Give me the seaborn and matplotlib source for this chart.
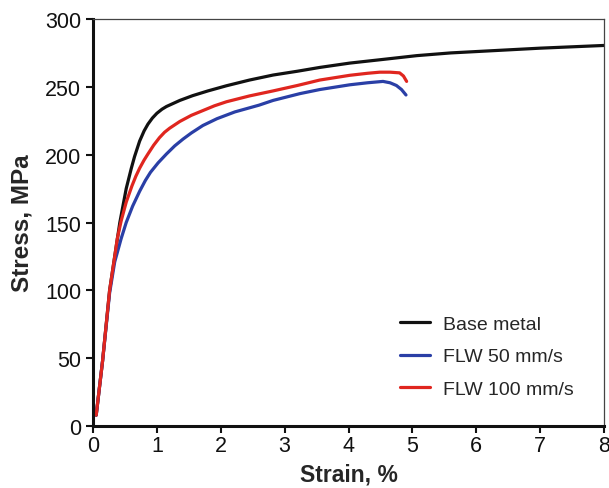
import numpy as np
import pandas as pd
import matplotlib
matplotlib.use("Agg")
import matplotlib.pyplot as plt
import seaborn as sns

# ---- data ----
base_x = [0.05, 0.15, 0.26, 0.34, 0.42, 0.52, 0.60, 0.65, 0.73, 0.80, 0.86, 0.93, 1.00, 1.08,
          1.15, 1.36, 1.56, 1.80, 2.09, 2.45, 2.82, 3.20, 3.55, 4.02, 4.50, 5.07, 5.60, 6.00,
          6.40, 7.00, 7.50, 8.00]
base_y = [8, 48, 100, 125, 150, 175, 190, 198.5, 210, 217.5, 222.5, 227, 230.5, 233.5,
          235.5, 240, 243.5, 247, 250.8, 255, 258.7, 261.5, 264.3, 267.5, 270, 273, 275, 276,
          277, 278.5, 279.5, 280.5]

fast_x = [0.05, 0.15, 0.26, 0.34, 0.38, 0.44, 0.52, 0.61, 0.67, 0.73, 0.80, 0.86, 0.95, 1.04,
          1.12, 1.20, 1.36, 1.54, 1.72, 1.90, 2.09, 2.45, 2.82, 3.20, 3.55, 4.02, 4.30, 4.49,
          4.65, 4.80, 4.86, 4.91]
fast_y = [8, 48, 100, 125, 138, 151, 165, 177, 184, 190, 196, 200.5, 207, 212.5,
          216.5, 219.5, 224.5, 229, 232.5, 236, 239, 243.3, 247, 251, 255, 258.5, 260, 260.8,
          260.8, 260.3, 258, 254]

slow_x = [0.05, 0.15, 0.26, 0.34, 0.44, 0.52, 0.62, 0.73, 0.82, 0.90, 1.02, 1.15, 1.28, 1.41,
          1.54, 1.72, 1.94, 2.22, 2.60, 2.82, 3.24, 3.55, 4.02, 4.30, 4.54, 4.65, 4.75, 4.83,
          4.90]
slow_y = [8, 48, 98, 121, 138, 150, 162, 173, 181, 187, 194, 200.5, 206.5, 211.5,
          216, 221.5, 226.5, 231.5, 236.5, 240, 245, 248, 251.5, 253, 254, 253, 251, 248,
          244]

labels = ["Base metal", "FLW 50 mm/s", "FLW 100 mm/s"]
colors = ["#111111", "#2a3fa6", "#e0261f"]

x_ticks = [0, 1, 2, 3, 4, 5, 6, 7, 8]
y_ticks = [0, 50, 100, 150, 200, 250, 300]

df = pd.concat([
    pd.DataFrame({"strain": base_x, "stress": base_y, "curve": labels[0]}),
    pd.DataFrame({"strain": slow_x, "stress": slow_y, "curve": labels[1]}),
    pd.DataFrame({"strain": fast_x, "stress": fast_y, "curve": labels[2]}),
], ignore_index=True)

sns.set_style("ticks")
plt.rcParams["font.family"] = ["Liberation Sans", "DejaVu Sans"]

fig = plt.figure(figsize=(6.09, 4.89), dpi=100)
ax = fig.add_axes([93 / 609, 62 / 489, 511 / 609, 407 / 489])

sns.lineplot(data=df, x="strain", y="stress", hue="curve", hue_order=labels,
             palette=dict(zip(labels, colors)), estimator=None, sort=False,
             linewidth=2.3, ax=ax)
for ln in ax.get_lines():
    ln.set_solid_joinstyle("round")
    ln.set_solid_capstyle("round")

ax.set_xlim(0, 8)
ax.set_ylim(0, 300)
ax.set_xticks(x_ticks)
ax.set_yticks(y_ticks)
ax.tick_params(axis="both", labelsize=15.5, direction="out", length=5, width=1.5,
               colors="#111111")
ax.tick_params(axis="y", pad=3.5)
ax.tick_params(axis="x", pad=1.5)
ax.set_xlabel("Strain, %", fontsize=16.5, fontweight="bold", labelpad=5)
ax.set_ylabel("Stress, MPa", fontsize=17.5, fontweight="bold", labelpad=8)

for side in ["left", "bottom"]:
    ax.spines[side].set_linewidth(2.2)
    ax.spines[side].set_color("#111111")
for side in ["top", "right"]:
    ax.spines[side].set_visible(True)
    ax.spines[side].set_linewidth(0.9)
    ax.spines[side].set_color("#444444")

leg = ax.legend(loc="upper left", bbox_to_anchor=((400 - 93) / 511, (427 - 316) / 407),
                borderaxespad=0, borderpad=0, frameon=False,
                fontsize=14, handlelength=1.55, labelspacing=0.78, handletextpad=0.65)
for line in leg.get_lines():
    line.set_linewidth(2.3)

fig.savefig("out.png", dpi=100)
